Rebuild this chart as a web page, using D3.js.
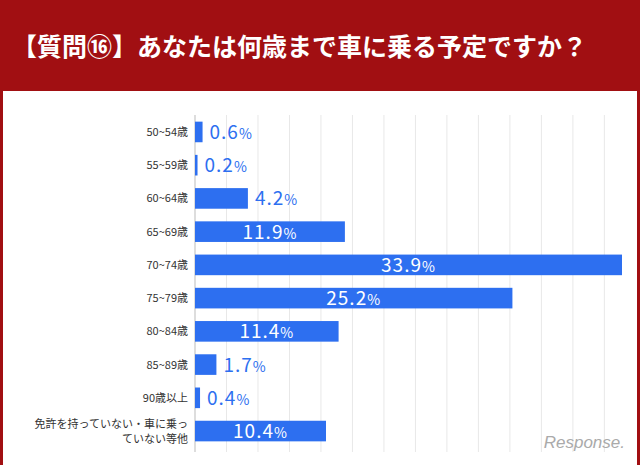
<!DOCTYPE html><html><head><meta charset="utf-8"><script src="https://cdn.jsdelivr.net/npm/d3@7"></script>
<style>body{margin:0;background:#a10f12}</style></head><body><svg id="c" width="640" height="465"></svg><script>
const categories=["50~54歳","55~59歳","60~64歳","65~69歳","70~74歳","75~79歳","80~84歳","85~89歳","90歳以上","免許を持っていない・車に乗っていない等他"];
const values=[0.6,0.2,4.2,11.9,33.9,25.2,11.4,1.7,0.4,10.4];
const title="【質問⑯】あなたは何歳まで車に乗る予定ですか？";
const svg=d3.select("#c");
svg.append("rect").attr("width",640).attr("height",465).attr("fill","#a10f12");
svg.append("rect").attr("x",3).attr("y",91).attr("width",634).attr("height",374).attr("fill","#fff");
svg.append("text").attr("x",12).attr("y",56).attr("fill","#fff").attr("font-size",25).attr("font-family","Noto Sans CJK JP").attr("font-weight","bold").text(title);
const x=d3.scaleLinear().domain([0,33.9]).range([195,622]);
const y=d3.scaleBand().domain(categories).range([115,448]).paddingInner(0.38).paddingOuter(0.2);
const g=svg.append("g");
d3.range(0,36,2.5).forEach(t=>{if(x(t)<630)g.append("line").attr("x1",x(t)).attr("x2",x(t)).attr("y1",115).attr("y2",452).attr("stroke",t==0?"#bbb":"#e8e8e8");});
categories.forEach((c,i)=>{
 const cy=y(c)+y.bandwidth()/2;
 g.append("rect").attr("x",x(0)).attr("y",y(c)).attr("width",Math.max(2,x(values[i])-x(0))).attr("height",y.bandwidth()).attr("fill","#2d6ff0");
 const lines=i==9?["免許を持っていない・車に乗っ","ていない等他"]:[c];
 lines.forEach((l,k)=>g.append("text").attr("x",188).attr("y",cy+4+(k-(lines.length-1)/2)*15).attr("text-anchor","end").attr("font-size",11).attr("fill","#333").attr("font-family","Noto Sans CJK JP").text(l));
 const inside=values[i]>8;
 const t=g.append("text").attr("y",cy+7).attr("font-size",19).attr("font-family","Noto Sans CJK JP").attr("letter-spacing",1).attr("fill",inside?"#fff":"#2d6ff0")
  .attr("x",inside?(x(0)+x(values[i]))/2:x(values[i])+7).attr("text-anchor",inside?"middle":"start");
 t.append("tspan").text(values[i].toFixed(1));t.append("tspan").attr("font-size",14).text("%");
});
svg.append("text").attr("x",625).attr("y",448).attr("text-anchor","end").attr("font-size",17).attr("font-style","italic").attr("fill","#aaa").attr("font-family","Liberation Sans").text("Response.");
</script></body></html>
